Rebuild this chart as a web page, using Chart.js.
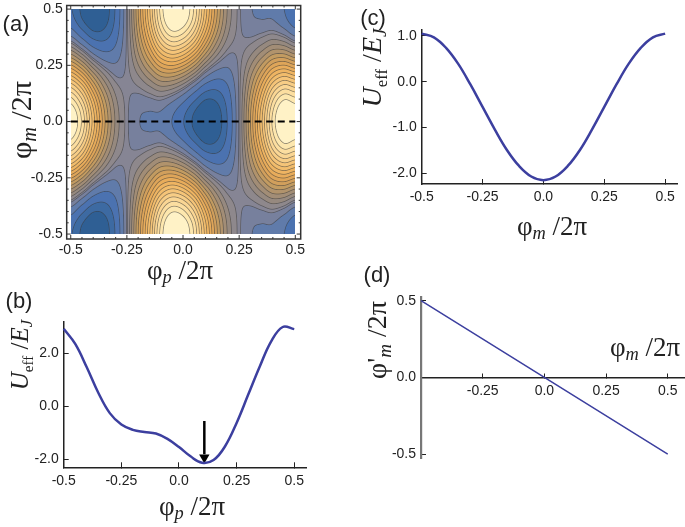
<!DOCTYPE html>
<html>
<head>
<meta charset="utf-8">
<script src="https://cdn.jsdelivr.net/npm/chart.js@4"></script>
<style>
html, body { margin: 0; padding: 0; background: #fff; }
#fig { position: relative; width: 685px; height: 527px; overflow: hidden; }
canvas { position: absolute; left: 0; top: 0; }
.lab { position: absolute; color: #222; white-space: nowrap; transform: translate(-50%, -50%); }
.panel { font: 22px "Liberation Sans", sans-serif; }
.math { font: 27px "Liberation Serif", serif; }
.math sub { font-size: 0.68em; font-style: italic; line-height: 0; vertical-align: -0.25em; }
.math sub.up { font-style: normal; font-size: 0.6em; vertical-align: -0.33em; }
.rot { transform: translate(-50%, -50%) rotate(-90deg); }
</style>
</head>
<body>
<div id="fig">
  <canvas id="chartA" width="685" height="527"></canvas>
  <canvas id="chartB" width="685" height="527"></canvas>
  <canvas id="chartC" width="685" height="527"></canvas>
  <canvas id="chartD" width="685" height="527"></canvas>

  <div class="lab panel" style="left:16px;top:24px">(a)</div>
  <div class="lab panel" style="left:19px;top:301px">(b)</div>
  <div class="lab panel" style="left:373px;top:18px">(c)</div>
  <div class="lab panel" style="left:377px;top:275px">(d)</div>

  <div class="lab math" style="left:180px;top:270px">φ<sub>p</sub> /2π</div>
  <div class="lab math rot" style="left:21px;top:120px;font-size:30px">φ<sub>m</sub> /2π</div>
  <div class="lab math" style="left:192px;top:506px">φ<sub>p</sub> /2π</div>
  <div class="lab math rot" style="left:20px;top:355px;font-size:25px"><i>U</i><sub class="up">eff</sub> /<i>E<sub>J</sub></i></div>
  <div class="lab math" style="left:552px;top:226px">φ<sub>m</sub> /2π</div>
  <div class="lab math rot" style="left:372px;top:68px;font-size:28px"><i>U</i><sub class="up">eff</sub> /<i>E<sub>J</sub></i></div>
  <div class="lab math" style="left:645px;top:347px">φ<sub>m</sub> /2π</div>
  <div class="lab math rot" style="left:377px;top:340px;font-size:28px">φ'<sub>m</sub> /2π</div>
</div>

<script>
// tick positions and labels
const phiTicks = [-0.5, -0.25, 0, 0.25, 0.5];
const phiLabels = ['-0.5', '-0.25', '0.0', '0.25', '0.5'];
const frameMinor = [-0.45, -0.4, -0.35, -0.3, -0.2, -0.15, -0.1, -0.05, 0.05, 0.1, 0.15, 0.2, 0.3, 0.35, 0.4, 0.45];
const bTicksY = [-2, 0, 2];
const cTicksY = [-2, -1, 0, 1];
const dTicksX = [-0.25, 0, 0.25, 0.5];
const dTicksY = [-0.5, 0, 0.5];

// (a) potential, columns are phi_p = -0.5 ... 0.5 in steps of 0.05
const mapX = [-0.5, -0.45, -0.4, -0.35, -0.3, -0.25, -0.2, -0.15, -0.1, -0.05, 0, 0.05, 0.1, 0.15, 0.2, 0.25, 0.3, 0.35, 0.4, 0.45, 0.5];
// rows are phi_m = 0 ... 0.5, the map is mirrored about phi_m = 0
const mapY = [0, 0.05, 0.1, 0.15, 0.2, 0.25, 0.3, 0.35, 0.4, 0.45, 0.5];
const mapRows = [
  [2.93, 2.39, 1.45, 0.50, -0.25, -0.66, -0.90, -0.97, -1.00, -1.22, -1.53, -1.89, -2.14, -2.00, -1.51, -0.66, 0.44, 1.50, 2.50, 3.02, 2.93],
  [2.82, 2.29, 1.36, 0.44, -0.28, -0.66, -0.87, -0.91, -0.91, -1.12, -1.42, -1.79, -2.05, -1.94, -1.48, -0.66, 0.41, 1.44, 2.41, 2.92, 2.82],
  [2.50, 1.98, 1.11, 0.26, -0.37, -0.66, -0.77, -0.73, -0.67, -0.82, -1.10, -1.48, -1.80, -1.76, -1.39, -0.66, 0.31, 1.26, 2.17, 2.62, 2.50],
  [2.01, 1.51, 0.71, -0.02, -0.51, -0.66, -0.62, -0.46, -0.28, -0.35, -0.61, -1.01, -1.40, -1.49, -1.25, -0.66, 0.16, 0.99, 1.78, 2.15, 2.01],
  [1.39, 0.91, 0.21, -0.36, -0.69, -0.66, -0.44, -0.12, 0.21, 0.24, 0.01, -0.41, -0.90, -1.14, -1.07, -0.66, -0.02, 0.65, 1.29, 1.56, 1.39],
  [0.70, 0.25, -0.35, -0.75, -0.88, -0.66, -0.23, 0.27, 0.75, 0.90, 0.70, 0.25, -0.35, -0.75, -0.88, -0.66, -0.23, 0.27, 0.75, 0.90, 0.70],
  [0.01, -0.41, -0.90, -1.14, -1.07, -0.66, -0.02, 0.65, 1.29, 1.56, 1.39, 0.91, 0.21, -0.36, -0.69, -0.66, -0.44, -0.12, 0.21, 0.24, 0.01],
  [-0.61, -1.01, -1.40, -1.49, -1.25, -0.66, 0.16, 0.99, 1.78, 2.15, 2.01, 1.51, 0.71, -0.02, -0.51, -0.66, -0.62, -0.46, -0.28, -0.35, -0.61],
  [-1.10, -1.48, -1.80, -1.76, -1.39, -0.66, 0.31, 1.26, 2.17, 2.62, 2.50, 1.98, 1.11, 0.26, -0.37, -0.66, -0.77, -0.73, -0.67, -0.82, -1.10],
  [-1.42, -1.79, -2.05, -1.94, -1.48, -0.66, 0.41, 1.44, 2.41, 2.92, 2.82, 2.29, 1.36, 0.44, -0.28, -0.66, -0.87, -0.91, -0.91, -1.12, -1.42],
  [-1.53, -1.89, -2.14, -2.00, -1.51, -0.66, 0.44, 1.50, 2.50, 3.02, 2.93, 2.39, 1.45, 0.50, -0.25, -0.66, -0.90, -0.97, -1.00, -1.22, -1.53]
];
const contourLevels = [-1.82, -1.55, -1.22, -0.92, -0.7, -0.6, -0.41, -0.21, 0.01, 0.23, 0.45, 0.67, 0.89, 1.11, 1.33, 1.55, 1.77, 1.99, 2.21, 2.43, 2.65];
const colorValues = [-2.2, -1.75, -1.4, -1.08, -0.8, -0.6, -0.3, 0, 0.3, 0.7, 1.1, 1.6, 2.1, 2.5, 2.8];
const colorStops = ['#27588c', '#3a689f', '#4a72b0', '#5f7bab', '#78809c', '#8a8792', '#96897e', '#a88f72', '#bf9a62', '#dba258', '#ecb05c', '#f4c274', '#fad694', '#fde5aa', '#fff2c6'];
const dashX = [-0.5, 0.5];
const dashY = [0, 0];

// (b) cut along phi_m = 0
const bX = [-0.5, -0.45, -0.4, -0.35, -0.3, -0.25, -0.2, -0.15, -0.1, -0.05, 0, 0.05, 0.1, 0.15, 0.2, 0.25, 0.3, 0.35, 0.4, 0.45, 0.5];
const bY = [2.93, 2.36, 1.48, 0.52, -0.25, -0.68, -0.88, -0.96, -1.02, -1.22, -1.53, -1.88, -2.12, -2.02, -1.5, -0.62, 0.44, 1.5, 2.46, 3.0, 2.92];
const arrowX = [0.11, 0.11];
const arrowY = [-0.55, -1.8];
const arrowHeadX = [0.11];
const arrowHeadY = [-1.92];

// (c) cut through the minimum along phi_m
const cX = [-0.5, -0.45, -0.4, -0.35, -0.3, -0.25, -0.2, -0.15, -0.1, -0.05, 0, 0.05, 0.1, 0.15, 0.2, 0.25, 0.3, 0.35, 0.4, 0.45, 0.5];
const cY = [1.05, 0.97, 0.74, 0.39, -0.06, -0.55, -1.04, -1.49, -1.84, -2.07, -2.15, -2.07, -1.84, -1.49, -1.04, -0.55, -0.06, 0.39, 0.74, 0.97, 1.05];

// (d) mapping of phi_m
const dX = [-0.5, 0.5];
const dY = [0.5, -0.5];

const curveColor = '#3c3f9f';
const inkColor = '#222';
const tickFont = { family: '"Liberation Sans", sans-serif', size: 14 };
// room kept for the tick labels, the scale clips its labels to this box
const yAxisWidth = 60;
const xAxisHeight = 30;

function points(xs, ys) {
  return xs.map((x, i) => ({ x: x, y: ys[i] }));
}

function hexRgb(h) {
  return [parseInt(h.substr(1, 2), 16), parseInt(h.substr(3, 2), 16), parseInt(h.substr(5, 2), 16)];
}

function colorFor(v) {
  if (v <= colorValues[0]) return hexRgb(colorStops[0]);
  for (let i = 1; i < colorValues.length; i++) {
    if (v <= colorValues[i]) {
      const t = (v - colorValues[i - 1]) / (colorValues[i] - colorValues[i - 1]);
      const a = hexRgb(colorStops[i - 1]), b = hexRgb(colorStops[i]);
      return [a[0] + (b[0] - a[0]) * t, a[1] + (b[1] - a[1]) * t, a[2] + (b[2] - a[2]) * t];
    }
  }
  return hexRgb(colorStops[colorStops.length - 1]);
}

// full table from phi_m = -0.5 to 0.5
const fullRows = mapRows.slice(1).reverse().concat(mapRows);

function cr(p0, p1, p2, p3, t) {
  return p1 + 0.5 * t * (p2 - p0 + t * (2 * p0 - 5 * p1 + 4 * p2 - p3 + t * (3 * (p1 - p2) + p3 - p0)));
}

function cell(r, c) {
  r = Math.max(0, Math.min(fullRows.length - 1, r));
  c = Math.max(0, Math.min(mapX.length - 1, c));
  return fullRows[r][c];
}

// smooth reading of the table between its nodes, only for painting the map
function sampleMap(x, y) {
  const fc = (x + 0.5) / 0.05, fr = (y + 0.5) / 0.05;
  const c = Math.floor(fc), r = Math.floor(fr);
  const tc = fc - c, tr = fr - r;
  const col = [];
  for (let i = -1; i <= 2; i++) {
    col.push(cr(cell(r + i, c - 1), cell(r + i, c), cell(r + i, c + 1), cell(r + i, c + 2), tc));
  }
  return cr(col[0], col[1], col[2], col[3], tr);
}

const contourMap = {
  id: 'contourMap',
  beforeDatasetsDraw(chart) {
    const sx = chart.scales.x, sy = chart.scales.y;
    const x0 = Math.round(sx.getPixelForValue(-0.5)), x1 = Math.round(sx.getPixelForValue(0.5));
    const y0 = Math.round(sy.getPixelForValue(0.5)), y1 = Math.round(sy.getPixelForValue(-0.5));
    const w = x1 - x0, h = y1 - y0;
    const vals = new Float64Array(w * h);
    for (let j = 0; j < h; j++) {
      for (let i = 0; i < w; i++) {
        vals[j * w + i] = sampleMap(sx.getValueForPixel(x0 + i + 0.5), sy.getValueForPixel(y0 + j + 0.5));
      }
    }
    const off = document.createElement('canvas');
    off.width = w;
    off.height = h;
    const octx = off.getContext('2d');
    const img = octx.createImageData(w, h);
    for (let j = 0; j < h; j++) {
      for (let i = 0; i < w; i++) {
        const v = vals[j * w + i];
        let b = 0;
        while (b < contourLevels.length && v > contourLevels[b]) b++;
        const lo = b === 0 ? -2.2 : contourLevels[b - 1];
        const hi = b === contourLevels.length ? 3.05 : contourLevels[b];
        const rgb = colorFor((lo + hi) / 2);
        const gx = (vals[j * w + Math.min(w - 1, i + 1)] - vals[j * w + Math.max(0, i - 1)]) / 2;
        const gy = (vals[Math.min(h - 1, j + 1) * w + i] - vals[Math.max(0, j - 1) * w + i]) / 2;
        const g = Math.sqrt(gx * gx + gy * gy) + 1e-6;
        let a = 0;
        for (const L of contourLevels) {
          a = Math.max(a, Math.min(1, Math.max(0, 0.85 - Math.abs(v - L) / g)));
        }
        a *= 0.6;
        const k = j * w + i;
        img.data[k * 4] = rgb[0] + (55 - rgb[0]) * a;
        img.data[k * 4 + 1] = rgb[1] + (55 - rgb[1]) * a;
        img.data[k * 4 + 2] = rgb[2] + (55 - rgb[2]) * a;
        img.data[k * 4 + 3] = 255;
      }
    }
    octx.putImageData(img, 0, 0);
    chart.ctx.save();
    chart.ctx.filter = 'blur(0.5px)';
    chart.ctx.drawImage(off, x0, y0);
    chart.ctx.restore();
  },
  afterDatasetsDraw(chart) {
    // frame with inward ticks on all four sides
    const ctx = chart.ctx, a = chart.chartArea;
    const sx = chart.scales.x, sy = chart.scales.y;
    ctx.save();
    ctx.strokeStyle = '#333';
    ctx.lineWidth = 1.5;
    ctx.strokeRect(a.left, a.top, a.right - a.left, a.bottom - a.top);
    ctx.lineWidth = 1;
    const mark = (v, len) => {
      const px = sx.getPixelForValue(v), py = sy.getPixelForValue(v);
      ctx.beginPath();
      ctx.moveTo(px, a.top); ctx.lineTo(px, a.top + len);
      ctx.moveTo(px, a.bottom); ctx.lineTo(px, a.bottom - len);
      ctx.moveTo(a.left, py); ctx.lineTo(a.left + len, py);
      ctx.moveTo(a.right, py); ctx.lineTo(a.right - len, py);
      ctx.stroke();
    };
    phiTicks.forEach(v => mark(v, 4));
    frameMinor.forEach(v => mark(v, 2));
    ctx.restore();
  }
};

// build one linear axis with fixed ticks and a fixed box
function axis(min, max, ticks, labels, extra) {
  return Object.assign({
    type: 'linear',
    min: min,
    max: max,
    afterBuildTicks: s => { s.ticks = ticks.map(v => ({ value: v })); },
    afterFit: s => {
      if (s.isHorizontal()) s.height = s.options.position === 'bottom' ? xAxisHeight : 0;
      else s.width = yAxisWidth;
      s.paddingLeft = s.paddingRight = s.paddingTop = s.paddingBottom = 0;
    },
    ticks: {
      autoSkip: false,
      maxRotation: 0,
      color: inkColor,
      font: tickFont,
      padding: 10,
      callback: v => labels[ticks.indexOf(v)]
    },
    grid: { drawOnChartArea: false, drawTicks: true, tickLength: -5, color: inkColor, lineWidth: 1 },
    border: { display: true, color: inkColor, width: 1.5 }
  }, extra || {});
}

function makeChart(id, area, datasets, scales, plugins) {
  const roomBelow = scales.x.position ? 0 : xAxisHeight;
  return new Chart(document.getElementById(id), {
    type: 'scatter',
    data: { datasets: datasets },
    options: {
      responsive: false,
      animation: false,
      layout: { padding: { left: area[0] - yAxisWidth, top: area[1], right: 685 - area[2], bottom: 527 - area[3] - roomBelow } },
      plugins: { legend: { display: false }, tooltip: { enabled: false } },
      scales: scales
    },
    plugins: plugins || []
  });
}

function curve(xs, ys, width) {
  return {
    data: points(xs, ys),
    showLine: true,
    borderColor: curveColor,
    borderWidth: width,
    pointRadius: 0,
    tension: 0.4,
    clip: false
  };
}

// (a)
const frameAxis = {
  grid: { display: false, drawTicks: false },
  border: { display: false }
};
const axA = axis(-0.518, 0.524, phiTicks, phiLabels, frameAxis);
axA.ticks.padding = 3;
const ayA = axis(-0.522, 0.516, phiTicks, phiLabels, frameAxis);
ayA.ticks.padding = 4;
makeChart('chartA', [66.7, 5.5, 300.7, 239], [{
  data: points(dashX, dashY),
  showLine: true,
  borderColor: '#000',
  borderWidth: 2,
  borderDash: [7, 4.5],
  pointRadius: 0
}], { x: axA, y: ayA }, [contourMap]);

// (b)
makeChart('chartB', [63.7, 321.7, 306, 467.3], [
  curve(bX, bY, 2.5),
  {
    data: points(arrowX, arrowY),
    showLine: true,
    borderColor: '#000',
    borderWidth: 2.5,
    pointRadius: 0
  },
  {
    data: points(arrowHeadX, arrowHeadY),
    pointStyle: 'triangle',
    rotation: 180,
    pointRadius: 6,
    backgroundColor: '#000',
    borderWidth: 0
  }
], {
  x: axis(-0.5, 0.551, phiTicks, phiLabels),
  y: axis(-2.294, 3.2, bTicksY, ['-2.0', '0.0', '2.0'])
});

// (c)
makeChart('chartC', [421.7, 30, 677.3, 184], [curve(cX, cY, 2.5)], {
  x: axis(-0.5, 0.55, phiTicks, phiLabels),
  y: axis(-2.234, 1.13, cTicksY, ['-2.0', '-1.0', '0.0', '1.0'])
});

// (d)
const axD = axis(-0.5, 0.57, dTicksX, ['-0.25', '0.0', '0.25', '0.5'], { position: { y: 0 } });
const ayD = axis(-0.525, 0.526, dTicksY, ['-0.5', '0.0', '0.5'], {
  border: { display: true, color: '#777', width: 2.2 }
});
makeChart('chartD', [421, 296.7, 685, 458], [curve(dX, dY, 1.5)], { x: axD, y: ayD });
</script>
</body>
</html>
